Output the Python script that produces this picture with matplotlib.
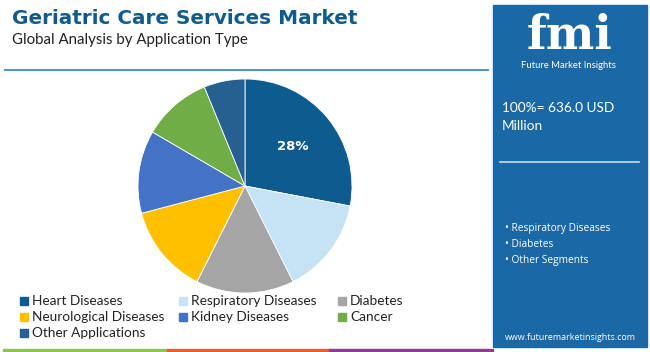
import matplotlib
matplotlib.use("Agg")
import matplotlib.pyplot as plt
from matplotlib.patches import Rectangle
import numpy as np

categories = ["Heart Diseases", "Respiratory Diseases", "Diabetes",
              "Neurological Diseases", "Kidney Diseases", "Cancer", "Other Applications"]
shares = [28.0, 14.6, 14.8, 13.5, 12.5, 10.4, 6.2]
colors = ["#0d5b8f", "#c5e3f4", "#a5a5a5", "#ffc000", "#4472c4", "#70ad47", "#265f91"]
panel_bullets = ["Respiratory Diseases", "Diabetes", "Other Segments"]
total_text = "100%= 636.0 USD\nMillion"

W, H = 650, 352
fig = plt.figure(figsize=(6.5, 3.52), dpi=100)
fig.patch.set_facecolor("white")

def fx(x): return x / W
def fy(y): return 1 - y / H

# Title
fig.text(fx(12), fy(18), "Geriatric Care Services Market", fontsize=14.4, fontweight="bold",
         color="#0f5b8e", family="DejaVu Sans", va="center", ha="left")
fig.text(fx(12), fy(40), "Global Analysis by Application Type", fontsize=10.8,
         color="#222222", family="Lato", va="center", ha="left")
fig.add_artist(plt.Line2D([fx(5), fx(488)], [fy(70), fy(70)], color="#3d8cc2", lw=1.3))

# Pie
cx, cy, r = 245, 186, 107
ax = fig.add_axes([fx(cx - r), fy(cy + r), 2 * r / W, 2 * r / H])
wedges, _ = ax.pie(shares, colors=colors, startangle=90, counterclock=False,
                   wedgeprops=dict(linewidth=0.6, edgecolor="white"))
ax.set_xlim(-1, 1)
ax.set_ylim(-1, 1)
ax.set_aspect("equal")
th1, th2 = wedges[0].theta1, wedges[0].theta2
mid = np.deg2rad((th1 + th2) / 2)
ax.text(0.58 * np.cos(mid), 0.58 * np.sin(mid), f"{shares[0]:.0f}%", color="white",
        fontsize=9.5, fontweight="bold", ha="center", va="center")

# Legend
col_x = [20, 179, 338]
row_y = [301, 317, 333]
for i, (cat, c) in enumerate(zip(categories, colors)):
    x = col_x[i % 3]
    y = row_y[i // 3]
    fig.add_artist(Rectangle((fx(x), fy(y + 4)), 8 / W, 8 / H, color=c,
                             transform=fig.transFigure))
    fig.text(fx(x + 12), fy(y), cat, fontsize=9.8, color="#222222", family="Lato",
             va="center", ha="left")

# Right panel
fig.add_artist(Rectangle((fx(493), fy(347)), (647 - 493) / W, (347 - 5) / H,
                         color="#1a69a6", transform=fig.transFigure, zorder=0))
fig.text(fx(569), fy(49), "fmi", fontsize=33, fontweight="bold", family="DejaVu Serif",
         color="white", ha="center", va="baseline")
fig.text(fx(568), fy(66), "Future Market Insights", fontsize=6.8, color="white",
         family="Lato", ha="center", va="center")
fig.text(fx(502), fy(117), total_text, fontsize=9.8, color="white", family="Lato",
         ha="left", va="center", linespacing=1.7)
fig.add_artist(plt.Line2D([fx(500), fx(639)], [fy(162), fy(162)], color="#c9dcec", lw=1.2))
for i, b in enumerate(panel_bullets):
    fig.text(fx(505), fy(229 + 15.5 * i), "\u2022 " + b, fontsize=7.3, color="white",
             family="Open Sans", ha="left", va="center")
fig.text(fx(570), fy(337), "www.futuremarketinsights.com", fontsize=6.4, color="white",
         family="Open Sans", ha="center", va="center")

# Bottom stripes
for x0, x1, c in [(3, 167, "#8dc35a"), (167, 329, "#e0603a"), (329, 493, "#8a3e91")]:
    fig.add_artist(Rectangle((fx(x0), fy(352)), (x1 - x0) / W, 3.5 / H, color=c,
                             transform=fig.transFigure))

fig.savefig("out.png", dpi=100)
